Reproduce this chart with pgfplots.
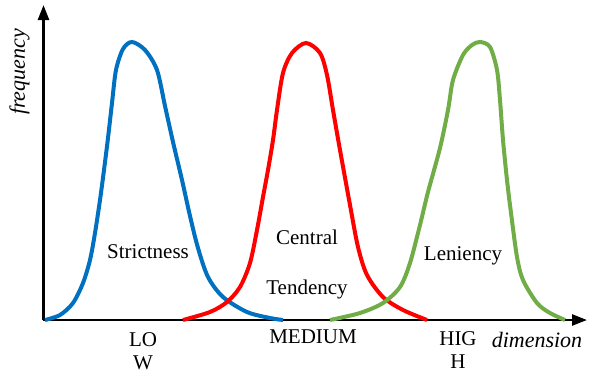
\documentclass[border=0pt]{standalone}
\usepackage{pgfplots}
\pgfplotsset{compat=1.18}
\usepackage{fontspec}
\setmainfont{Liberation Serif}
\usetikzlibrary{arrows.meta}
\definecolor{cblue}{RGB}{0,112,192}
\definecolor{cred}{RGB}{255,0,0}
\definecolor{cgreen}{RGB}{112,173,71}
\tikzset{lbl/.style={font=\fontsize{21}{25}\selectfont, anchor=base, inner sep=0pt}}
\begin{document}
\begin{tikzpicture}
\begin{axis}[
  scale only axis,
  width=543.5pt, height=315pt,
  xmin=43.5, xmax=587, ymin=0, ymax=315,
  axis x line=bottom, axis y line=left,
  axis line style={line width=2.5pt, -{Triangle[length=15pt,width=11pt]}},
  xtick=\empty, ytick=\empty,
  clip=false,
  every axis plot/.append style={line width=4pt, smooth, tension=0.5},
]
\addplot[cblue] coordinates {(45,0)(60,5)(73,17)(83,37)(90,60)(95,87)(100,120)(104,150)(108,182)(112,217)(116,250)(123,271)(132,278)(145,270)(157,250)(165,214)(173,178)(182,140)(190,104)(198,72)(208,43)(223,23)(247,8)(270,2)(283,0)};
\addplot[cred] coordinates {(183,0)(210,8)(227,18)(240,33)(250,57)(257,90)(263,123)(268,150)(273,180)(277,210)(283,247)(292,267)(306,277)(320,267)(327,245)(333,210)(340,170)(350,115)(358,73)(367,45)(383,23)(403,10)(427,0)};
\addplot[cgreen] coordinates {(330,0)(360,7)(383,17)(400,33)(410,57)(420,95)(428,128)(440,172)(448,210)(453,240)(463,265)(472,275)(480,278)(490,273)(497,250)(500,220)(503,180)(507,140)(511,107)(517,63)(523,40)(537,17)(550,7)(565,0)};
\node[lbl] at (axis cs:148,62) {Strictness};
\node[lbl] at (axis cs:307,76) {Central};
\node[lbl] at (axis cs:307,26) {Tendency};
\node[lbl] at (axis cs:463,60) {Leniency};
\node[lbl] at (axis cs:143,-26) {LO};
\node[lbl] at (axis cs:143,-49) {W};
\node[lbl] at (axis cs:313,-23) {MEDIUM};
\node[lbl] at (axis cs:458,-25) {HIG};
\node[lbl] at (axis cs:458,-48) {H};
\node[lbl, font=\fontsize{22}{26}\selectfont\itshape] at (axis cs:537,-27) {dimension};
\node[lbl, font=\fontsize{22}{26}\selectfont\itshape, rotate=90] at (axis cs:25,248) {frequency};
\path (axis cs:0,-56) rectangle (axis cs:589,320);
\end{axis}
\end{tikzpicture}
\end{document}
